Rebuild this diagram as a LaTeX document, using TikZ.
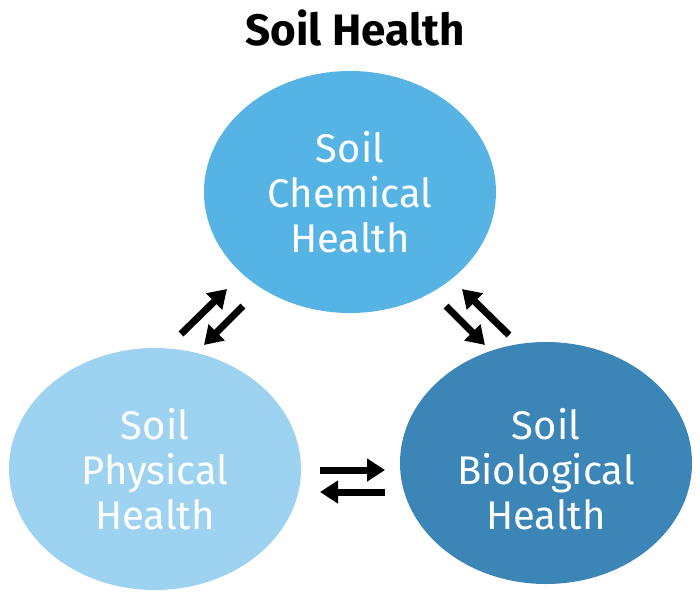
\documentclass[tikz,border=0pt]{standalone}
\usepackage{fontspec}
\setmainfont{Fira Sans}
\usetikzlibrary{shapes.geometric,arrows.meta}
\definecolor{chemblue}{HTML}{56B4E5}
\definecolor{physblue}{HTML}{9DD3F1}
\definecolor{bioblue}{HTML}{3C85B7}
\tikzset{
  health/.style={ellipse, minimum width=292pt, minimum height=242pt, inner sep=0pt,
    text=white, align=center, font=\fontsize{40}{45}\selectfont},
  swap/.style={line width=7pt, -{Triangle[length=18pt,width=22pt]}}
}

\begin{document}
\begin{tikzpicture}[x=1pt,y=-1pt]
\useasboundingbox (0,0) rectangle (700,600);
\node (title) at (355,28) {\fontsize{44}{48}\selectfont\bfseries Soil Health};

\node [health, fill=chemblue] (chem) at (350,192) {Soil\\Chemical\\Health};
\node [health, fill=physblue] (phys) at (155,469) {Soil\\Physical\\Health};
\node [health, fill=bioblue] (bio) at (546,463) {};
\node [health] (biotext) at (546,469) {Soil\\Biological\\Health};

% left pair
\coordinate (pc1) at (181,334); \coordinate (pc2) at (227,289);
\coordinate (cp1) at (243,306); \coordinate (cp2) at (204,345);
\draw [swap] (pc1) -- (pc2);
\draw [swap] (cp1) -- (cp2);

% right pair
\coordinate (cb1) at (446,306); \coordinate (cb2) at (485,345);
\coordinate (bc1) at (509,335); \coordinate (bc2) at (462,289);
\draw [swap] (cb1) -- (cb2);
\draw [swap] (bc1) -- (bc2);

% bottom pair
\coordinate (pb1) at (320,470); \coordinate (pb2) at (385,470);
\coordinate (bp1) at (385,492); \coordinate (bp2) at (320,492);
\draw [swap] (pb1) -- (pb2);
\draw [swap] (bp1) -- (bp2);
\end{tikzpicture}
\end{document}
